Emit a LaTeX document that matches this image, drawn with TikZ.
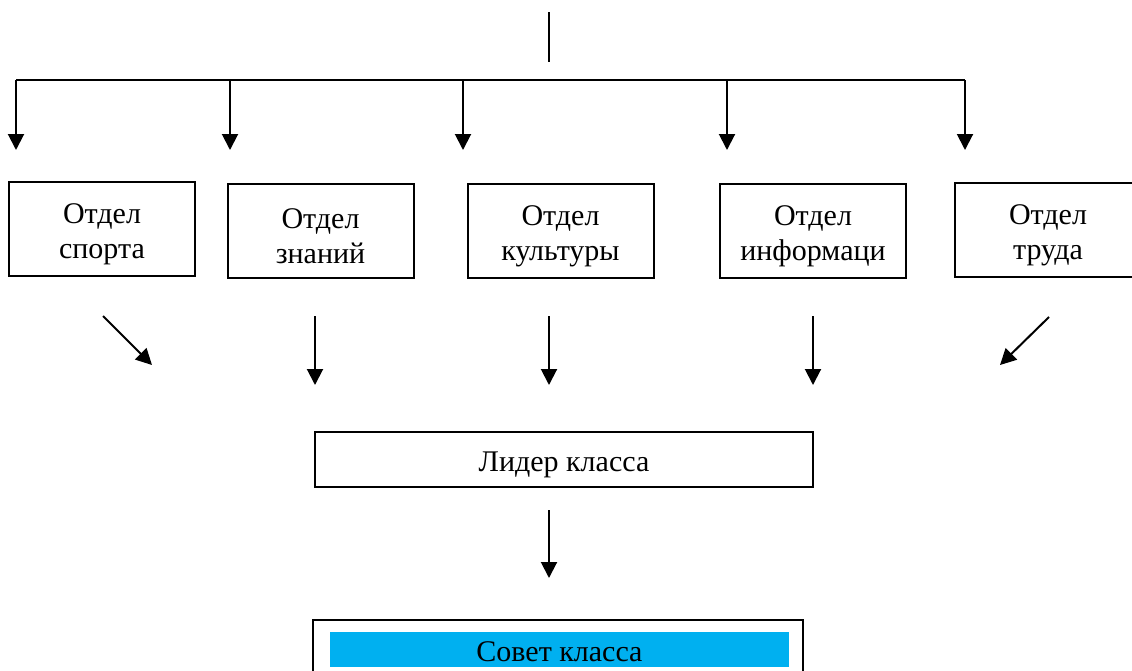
\documentclass[tikz,border=0pt]{standalone}
\usepackage{fontspec}
\setmainfont{Liberation Serif}
\usetikzlibrary{arrows.meta}
\definecolor{wordblue}{HTML}{00B0F0}
\begin{document}
\begin{tikzpicture}
        [x=1pt, y=-1pt,
        txt/.style={align=center, inner sep=0pt, yshift=-5pt, font=\fontsize{30}{35}\selectfont},
        otdel/.style={rectangle, draw, line width=2pt, minimum width=186pt, minimum height=94pt, inner sep=0pt},
        wide/.style={rectangle, draw, line width=2pt, minimum width=498pt, minimum height=55pt, inner sep=0pt},
        arr/.style={line width=2pt, -{Triangle[width=16pt, length=16pt]}}]
        \useasboundingbox (0,0) rectangle (1132,670);
        % departments
        \node[otdel, label={[txt]center:{Отдел\\спорта}}] (S) at (102,229) {};
        \node[otdel, label={[txt]center:{Отдел\\знаний}}] (Z) at (320.5,231) {};
        \node[otdel, label={[txt]center:{Отдел\\культуры}}] (K) at (560.5,231) {};
        \node[otdel, label={[txt]center:{Отдел\\информаци}}] (I) at (813,231) {};
        \node[otdel, label={[txt]center:{Отдел\\труда}}] (T) at (1048,230) {};
        % leader and council
        \node[wide, label={[txt]center:{Лидер класса}}] (L) at (564,459.5) {};
        \node[wide, minimum width=490pt, minimum height=70pt] (C) at (558,655) {};
        \node[fill=wordblue, minimum width=459pt, minimum height=35pt, inner sep=0pt, label={[txt, yshift=3pt]center:{Совет класса}}] (CC) at (559.5,649.5) {};
        
        \coordinate (top) at (549,12);
        \coordinate (topEnd) at (549,62);
        \coordinate (barL) at (16,80);
        \coordinate (barR) at (965,80);
        \draw[line width=1.3pt] (top) -- (topEnd);
        \draw[line width=2pt] (barL) -- (barR);
        
        \coordinate (b2) at (230,80);
        \coordinate (b3) at (463,80);
        \coordinate (b4) at (727,80);
        \coordinate (t1) at (16,150);
        \coordinate (t2) at (230,150);
        \coordinate (t3) at (463,150);
        \coordinate (t4) at (727,150);
        \coordinate (t5) at (965,150);
        \draw[arr] (barL) -- (t1);
        \draw[arr] (b2) -- (t2);
        \draw[arr] (b3) -- (t3);
        \draw[arr] (b4) -- (t4);
        \draw[arr] (barR) -- (t5);
        
        \coordinate (s1) at (103,316);
        \coordinate (e1) at (152,365);
        \coordinate (s2) at (315,316);
        \coordinate (e2) at (315,385);
        \coordinate (s3) at (549,316);
        \coordinate (e3) at (549,385);
        \coordinate (s4) at (813,316);
        \coordinate (e4) at (813,385);
        \coordinate (s5) at (1049,317);
        \coordinate (e5) at (1000,365);
        \draw[arr] (s1) -- (e1);
        \draw[arr] (s2) -- (e2);
        \draw[arr] (s3) -- (e3);
        \draw[arr] (s4) -- (e4);
        \draw[arr] (s5) -- (e5);
        
        \coordinate (l1) at (549,510);
        \coordinate (l2) at (549,578);
        \draw[arr] (l1) -- (l2);
    \end{tikzpicture}
\end{document}
